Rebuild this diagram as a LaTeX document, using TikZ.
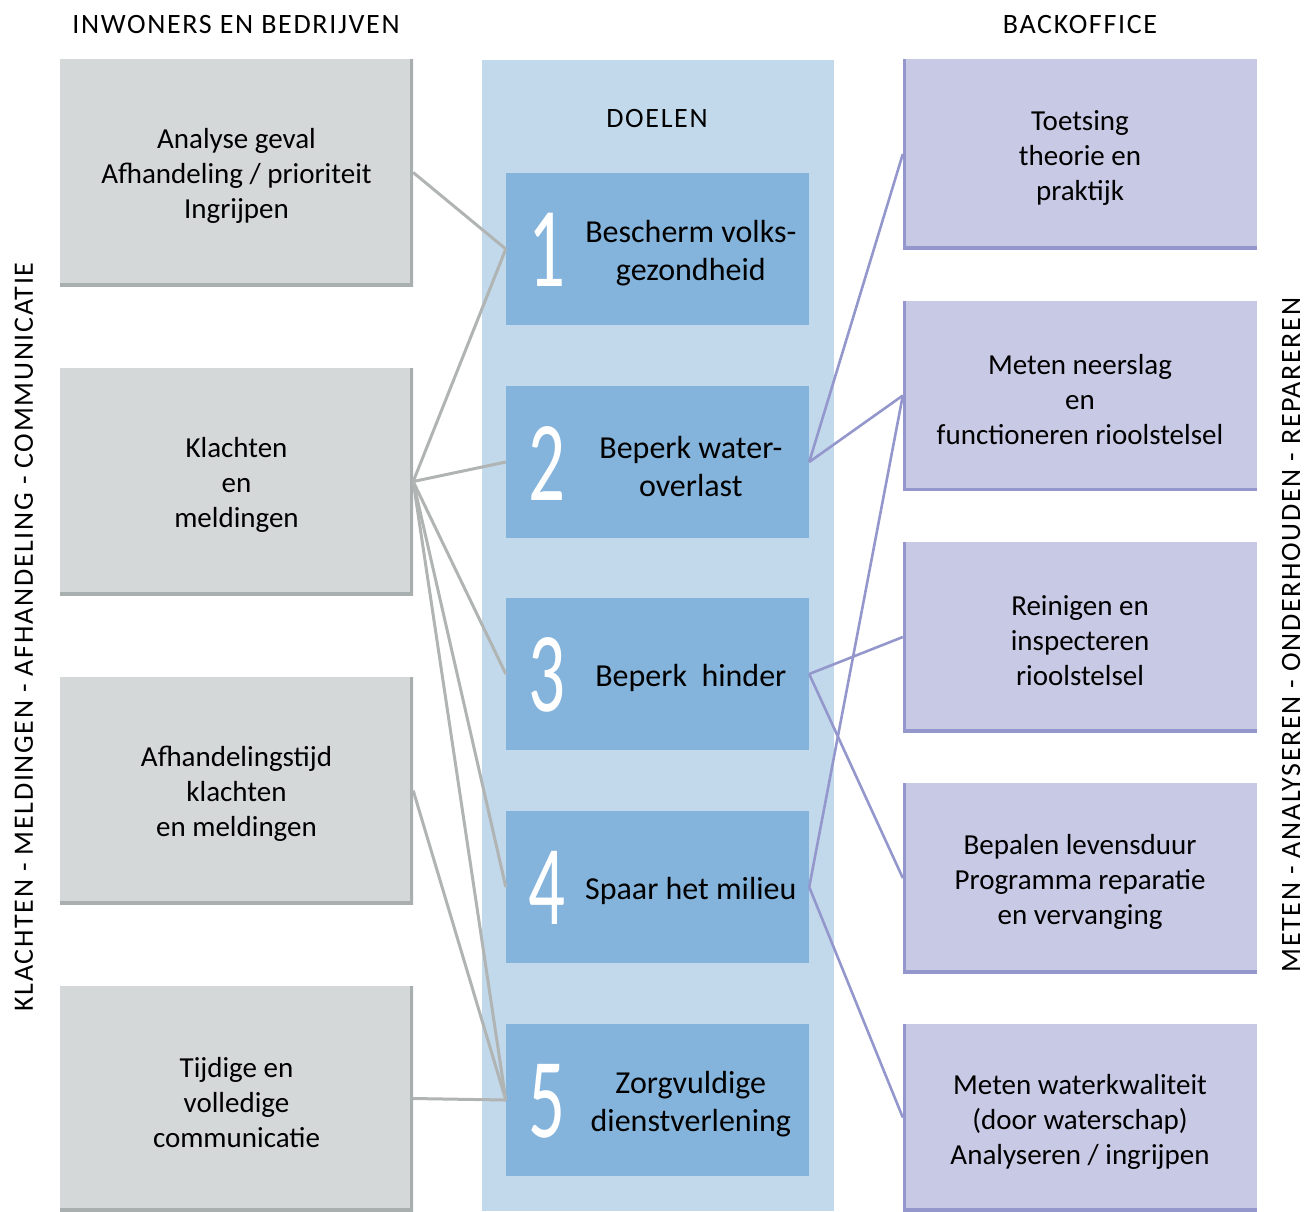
\documentclass[tikz,border=0pt]{standalone}
\usepackage{fontspec}
\setmainfont{Carlito}
\newfontfamily\capsfont[LetterSpace=6]{Carlito}
\usepackage{tikz}
\usetikzlibrary{positioning}

\definecolor{leftfill}{HTML}{D4D8D9}
\definecolor{leftshade}{HTML}{A9AEAE}
\definecolor{leftline}{HTML}{B0B4B3}
\definecolor{colfill}{HTML}{C2D9EC}
\definecolor{goalfill}{HTML}{84B4DC}
\definecolor{backfill}{HTML}{C8C9E4}
\definecolor{backline}{HTML}{9497CC}

\begin{document}
\begin{tikzpicture}[x=1pt,y=-1pt]
            \tikzstyle{leftedge}=[draw=leftline,line width=3pt,-]
            \tikzstyle{backedge}=[draw=backline,line width=2.6pt,-]
            \tikzstyle{boxtext}=[align=center,inner sep=0pt,font=\fontsize{29}{35}\selectfont]
            \tikzstyle{leftbox}=[fill=leftfill,minimum width=353pt,minimum height=227pt,inner sep=0pt,
              path picture={\draw[line width=6pt,leftshade] (path picture bounding box.north east) -- (path picture bounding box.south east) -- (path picture bounding box.south west);}]
            \tikzstyle{backbox}=[fill=backfill,minimum width=354pt,minimum height=190pt,inner sep=0pt,
              path picture={\draw[line width=6pt,backline] (path picture bounding box.north west) -- (path picture bounding box.south west) -- (path picture bounding box.south east);}]
            \tikzstyle{goalbox}=[fill=goalfill,minimum width=303pt,minimum height=152pt,inner sep=0pt]
            \tikzstyle{goalnum}=[text=white,inner sep=0pt,font=\fontsize{114}{114}\selectfont]
            \tikzstyle{goaltext}=[align=center,inner sep=0pt,font=\fontsize{32}{38}\selectfont]
            \tikzstyle{header}=[inner sep=0pt,font=\capsfont\fontsize{28}{32}\selectfont]

            \useasboundingbox (0,0) rectangle (1305,1211);

            % doelen kolom
            \fill[colfill] (482,60) rectangle (834,1211);

            \def\lx{236.5}
            \def\gx{657.5}
            \def\bx{1080}

            \node[header] (hleft) at (236,25) {INWONERS EN BEDRIJVEN};
            \node[header] (hback) at (1080,25) {BACKOFFICE};
            \node[header] (hgoal) at (657,119) {DOELEN};
            \node[header,rotate=90] (sleft) at (24,637) {KLACHTEN - MELDINGEN - AFHANDELING - COMMUNICATIE};
            \node[header,rotate=90] (sback) at (1291,635) {METEN - ANALYSEREN - ONDERHOUDEN - REPAREREN};

            % inwoners en bedrijven
            \node[leftbox] (l1) at (\lx,172.5) {};
            \node[leftbox] (l2) at (\lx,481.5) {};
            \node[leftbox] (l3) at (\lx,790.5) {};
            \node[leftbox,minimum height=225pt] (l4) at (\lx,1098.5) {};
            \node[boxtext] (l1txt) at ([yshift=-3pt]l1.center) {Analyse geval\\Afhandeling / prioriteit\\Ingrijpen};
            \node[boxtext] (l2txt) at ([yshift=-3pt]l2.center) {Klachten\\en\\meldingen};
            \node[boxtext] (l3txt) at ([yshift=-3pt]l3.center) {Afhandelingstijd\\klachten\\en meldingen};
            \node[boxtext] (l4txt) at ([yshift=-4pt]l4.center) {Tijdige en\\volledige\\communicatie};

            % doelen
            \node[goalbox] (g1) at (\gx,249) {};
            \node[goalbox] (g2) at (\gx,462) {};
            \node[goalbox] (g3) at (\gx,674) {};
            \node[goalbox] (g4) at (\gx,887) {};
            \node[goalbox] (g5) at (\gx,1100) {};

            \foreach \i/\t in {1/{Bescherm volks-\\gezondheid},2/{Beperk water-\\overlast},3/{Beperk\ \ hinder},4/{Spaar het milieu},5/{Zorgvuldige\\dienstverlening}}{
              \node[goalnum] (g\i num) at ([xshift=41pt,yshift=-1pt]g\i.west) {\scalebox{0.64}[1]{\i}};
              \node[goaltext] (g\i txt) at ([xshift=185pt,yshift=-4pt]g\i.west) {\t};
            }

            % backoffice
            \node[backbox] (b1) at (\bx,154) {};
            \node[backbox] (b2) at (\bx,395.5) {};
            \node[backbox] (b3) at (\bx,637) {};
            \node[backbox] (b4) at (\bx,878) {};
            \node[backbox,minimum height=187pt] (b5) at (\bx,1117.5) {};
            \node[boxtext] (b1txt) at ([yshift=-4pt]b1.center) {Toetsing\\theorie en\\praktijk};
            \node[boxtext] (b2txt) at ([yshift=-4pt]b2.center) {Meten neerslag\\en\\functioneren rioolstelsel};
            \node[boxtext] (b3txt) at ([yshift=-4pt]b3.center) {Reinigen en\\inspecteren\\rioolstelsel};
            \node[boxtext] (b4txt) at ([yshift=-4pt]b4.center) {Bepalen levensduur\\Programma reparatie\\en vervanging};
            \node[boxtext] (b5txt) at ([yshift=-4pt]b5.center) {Meten waterkwaliteit\\(door waterschap)\\Analyseren / ingrijpen};

            \path[leftedge] (l1.east) -- (g1.west);
            \path[leftedge] (l2.east) -- (g1.west);
            \path[leftedge] (l2.east) -- (g2.west);
            \path[leftedge] (l2.east) -- (g3.west);
            \path[leftedge] (l2.east) -- (g4.west);
            \path[leftedge] (l2.east) -- (g5.west);
            \path[leftedge] (l3.east) -- (g5.west);
            \path[leftedge] (l4.east) -- (g5.west);

            \path[backedge] (g2.east) -- (b1.west);
            \path[backedge] (g2.east) -- (b2.west);
            \path[backedge] (g3.east) -- (b3.west);
            \path[backedge] (g3.east) -- (b4.west);
            \path[backedge] (g4.east) -- (b2.west);
            \path[backedge] (g4.east) -- (b5.west);
        \end{tikzpicture}
\end{document}
